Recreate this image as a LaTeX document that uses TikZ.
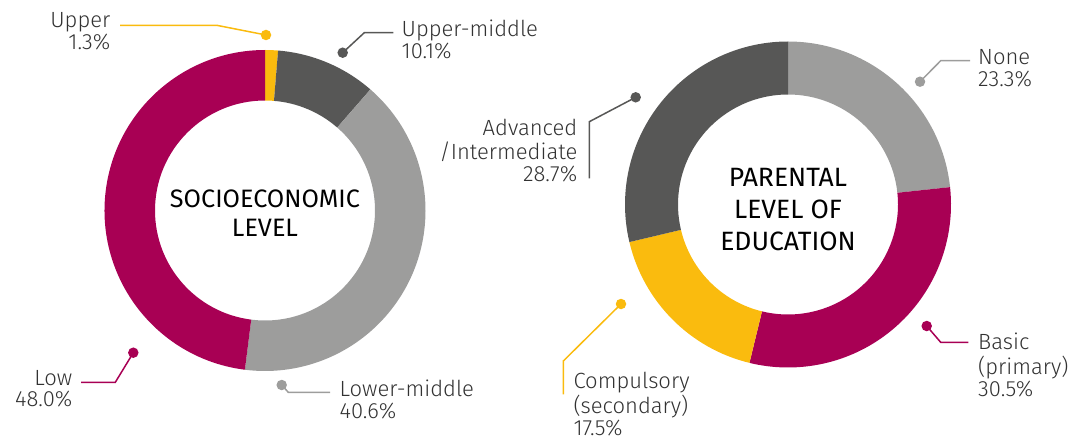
\documentclass[tikz,border=0pt]{standalone}
\usepackage{fontspec}
\setmainfont{Fira Sans}
\newfontfamily\lightfont{Fira Sans Light}
\definecolor{crim}{RGB}{168,0,84}
\definecolor{dgray}{RGB}{87,87,86}
\definecolor{lgray}{RGB}{157,157,156}
\definecolor{yel}{RGB}{250,187,14}
\definecolor{labelgray}{RGB}{50,50,50}
\newcommand{\donutseg}[5]{\fill[#5] (#1:#3) arc[start angle=#1, end angle=#2, radius=#3] -- (#2:#4) arc[start angle=#2, end angle=#1, radius=#4] -- cycle;}
\begin{document}
\begin{tikzpicture}[x=1pt,y=1pt,
  lbl/.style={inner sep=0pt, text=labelgray, font=\lightfont\fontsize{22}{21.7}\selectfont},
  ttl/.style={inner sep=0pt, text=black, anchor=base},
  dotm/.style={circle, inner sep=0pt, minimum size=10.5pt, fill=#1},
  lead/.style={draw=#1, line width=1.5pt}]
\useasboundingbox (0,0) rectangle (1074,440);

% ---------- left donut ----------
\begin{scope}[shift={(265,229.5)}]
\donutseg{90}{85.32}{160.5}{110}{yel}
\donutseg{85.32}{48.96}{160.5}{110}{dgray}
\donutseg{48.96}{-97.2}{160.5}{110}{lgray}
\donutseg{-97.2}{-270}{160.5}{110}{crim}
\end{scope}
\node[ttl, font=\fontsize{25.2}{28.7}\selectfont] (tLeft) at (265,232.7)
  {\begin{tabular}[t]{@{}c@{}}SOCIOECONOMIC\\LEVEL\end{tabular}};

% Upper
\node[dotm=yel] (dUpper) at (266,405) {};
\coordinate (bUpper) at (216.7,414.7);
\coordinate (eUpper) at (120,414.7);
\draw[lead=yel] (dUpper.center) -- (bUpper) -- (eUpper);
\node[lbl, anchor=base east] (lUpper) at (110.5,412)
  {\begin{tabular}[t]{@{}r@{}}Upper\\1.3\%\end{tabular}};

% Upper-middle
\node[dotm=dgray] (dUM) at (342.7,387.3) {};
\coordinate (bUM) at (364.3,407.3);
\coordinate (eUM) at (393.3,407.3);
\draw[lead=dgray] (dUM.center) -- (bUM) -- (eUM);
\node[lbl, anchor=base west] (lUM) at (401.5,403.3)
  {\begin{tabular}[t]{@{}l@{}}Upper-middle\\10.1\%\end{tabular}};

% Low
\node[dotm=crim] (dLow) at (133.3,87.3) {};
\coordinate (bLow) at (115.3,57.7);
\coordinate (eLow) at (81,57.7);
\draw[lead=crim] (dLow.center) -- (bLow) -- (eLow);
\node[lbl, anchor=base east] (lLow) at (72.5,55)
  {\begin{tabular}[t]{@{}r@{}}Low\\48.0\%\end{tabular}};

% Lower-middle
\node[dotm=lgray] (dLM) at (281.7,55) {};
\coordinate (bLM) at (288.3,47.7);
\coordinate (eLM) at (330,47.7);
\draw[lead=lgray] (dLM.center) -- (bLM) -- (eLM);
\node[lbl, anchor=base west] (lLM) at (339.5,43.3)
  {\begin{tabular}[t]{@{}l@{}}Lower-middle\\40.6\%\end{tabular}};

% ---------- right donut ----------
\begin{scope}[shift={(788,235.5)}]
\donutseg{90}{6.12}{163}{110}{lgray}
\donutseg{6.12}{-103.68}{163}{110}{crim}
\donutseg{-103.68}{-166.68}{163}{110}{yel}
\donutseg{-166.68}{-270}{163}{110}{dgray}
\end{scope}
\node[ttl, font=\fontsize{26.5}{32}\selectfont] (tRight) at (788,253.3)
  {\begin{tabular}[t]{@{}c@{}}PARENTAL\\LEVEL OF\\EDUCATION\end{tabular}};

% None
\node[dotm=lgray] (dNone) at (920,358.3) {};
\coordinate (bNone) at (940.7,379.3);
\coordinate (eNone) at (970,379.3);
\draw[lead=lgray] (dNone.center) -- (bNone) -- (eNone);
\node[lbl, anchor=base west] (lNone) at (978,375)
  {\begin{tabular}[t]{@{}l@{}}None\\23.3\%\end{tabular}};

% Advanced
\node[dotm=dgray] (dAdv) at (635.7,342.7) {};
\coordinate (bAdv) at (589.3,318.3);
\coordinate (eAdv) at (589.3,261.7);
\draw[lead=dgray] (dAdv.center) -- (bAdv) -- (eAdv);
\node[lbl, anchor=base east] (lAdv) at (577.5,305)
  {\begin{tabular}[t]{@{}r@{}}Advanced\\/Intermediate\\28.7\%\end{tabular}};

% Compulsory
\node[dotm=yel] (dComp) at (621,136) {};
\coordinate (bComp) at (563.3,79);
\coordinate (eComp) at (563.3,45.7);
\draw[lead=yel] (dComp.center) -- (bComp) -- (eComp);
\node[lbl, anchor=base west] (lComp) at (573.3,51.8)
  {\begin{tabular}[t]{@{}l@{}}Compulsory\\(secondary)\\17.5\%\end{tabular}};

% Basic
\node[dotm=crim] (dBasic) at (926.7,114) {};
\coordinate (bBasic) at (940.7,97.7);
\coordinate (eBasic) at (968.3,97.7);
\draw[lead=crim] (dBasic.center) -- (bBasic) -- (eBasic);
\node[lbl, anchor=base west] (lBasic) at (978,90.7)
  {\begin{tabular}[t]{@{}l@{}}Basic\\(primary)\\30.5\%\end{tabular}};
\end{tikzpicture}
\end{document}
